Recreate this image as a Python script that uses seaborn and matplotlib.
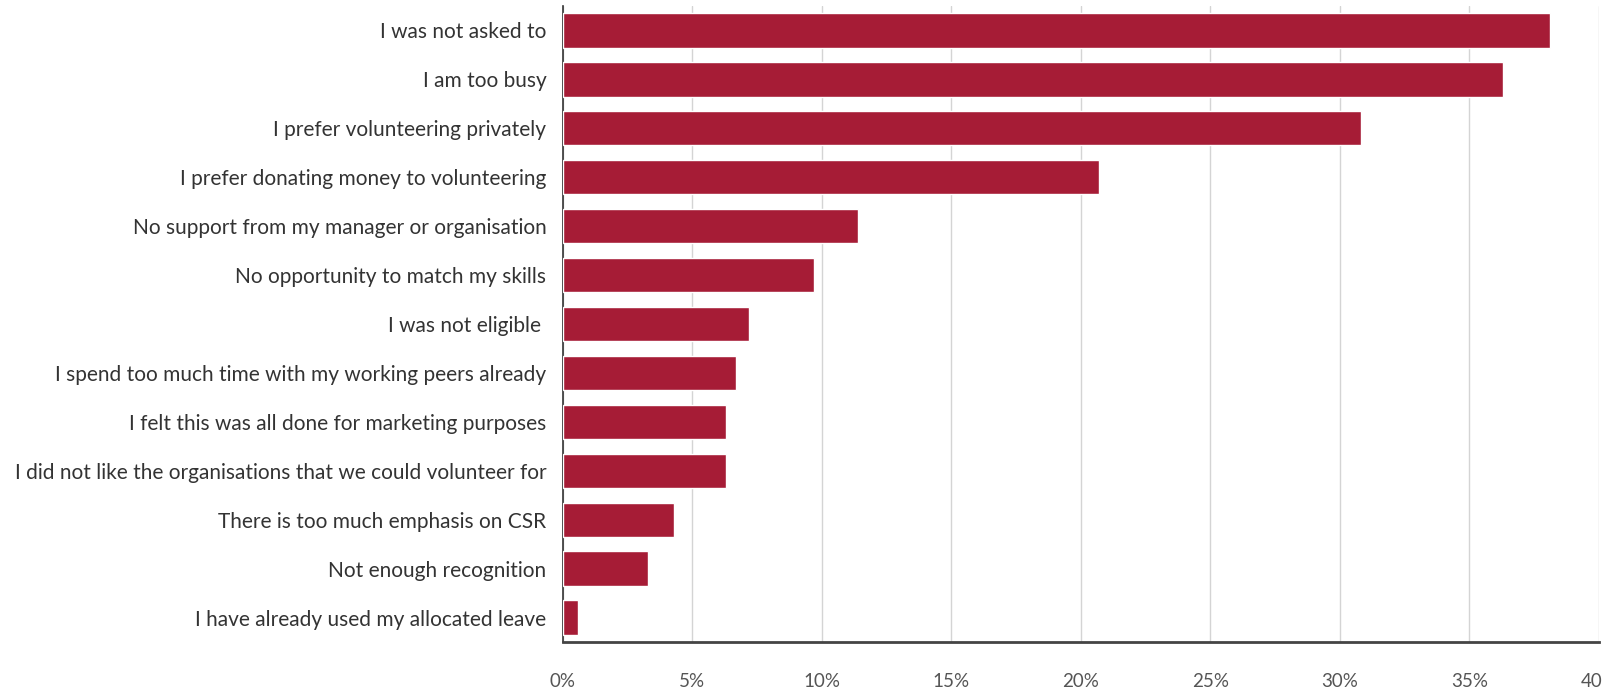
import matplotlib
matplotlib.use("Agg")
import matplotlib.pyplot as plt
import seaborn as sns
import pandas as pd

reasons = [
    "I was not asked to",
    "I am too busy",
    "I prefer volunteering privately",
    "I prefer donating money to volunteering",
    "No support from my manager or organisation",
    "No opportunity to match my skills",
    "I was not eligible ",
    "I spend too much time with my working peers already",
    "I felt this was all done for marketing purposes",
    "I did not like the organisations that we could volunteer for",
    "There is too much emphasis on CSR",
    "Not enough recognition",
    "I have already used my allocated leave",
]
shares = [38.1, 36.3, 30.8, 20.7, 11.4, 9.7, 7.2, 6.7, 6.3, 6.3, 4.3, 3.3, 0.6]
tick_values = [0, 5, 10, 15, 20, 25, 30, 35, 40]
tick_labels = ["0%", "5%", "10%", "15%", "20%", "25%", "30%", "35%", "40%"]

df = pd.DataFrame({"reason": reasons, "share": shares})

sns.set_style("white")
plt.rcParams["font.family"] = ["Lato", "DejaVu Sans"]

fig = plt.figure(figsize=(16.02, 6.97), dpi=100)
ax = fig.add_axes([0.3514, 0.0789, 0.6466, 0.9125])

sns.barplot(data=df, x="share", y="reason", orient="h", color="#A61C36",
            saturation=1, width=0.70, ax=ax, zorder=3)

ax.set_xlim(0, 40)
ax.set_ylim(12.5, -0.5)
ax.set_xticks(tick_values)
ax.set_xticklabels(tick_labels)
ax.xaxis.grid(True, color="#d4d4d4", linewidth=1.0, zorder=0)
ax.yaxis.grid(False)
ax.set_axisbelow(True)
ax.set_xlabel("")
ax.set_ylabel("")

for side in ("top", "right"):
    ax.spines[side].set_visible(False)
ax.spines["left"].set_color("#333333")
ax.spines["left"].set_linewidth(1.2)
ax.spines["bottom"].set_color("#444444")
ax.spines["bottom"].set_linewidth(2.0)

ax.tick_params(axis="y", length=0, pad=12, labelsize=15.0, labelcolor="#333333")
ax.tick_params(axis="x", length=0, pad=22, labelsize=13.5, labelcolor="#555555")

fig.savefig("out.png", dpi=100)
